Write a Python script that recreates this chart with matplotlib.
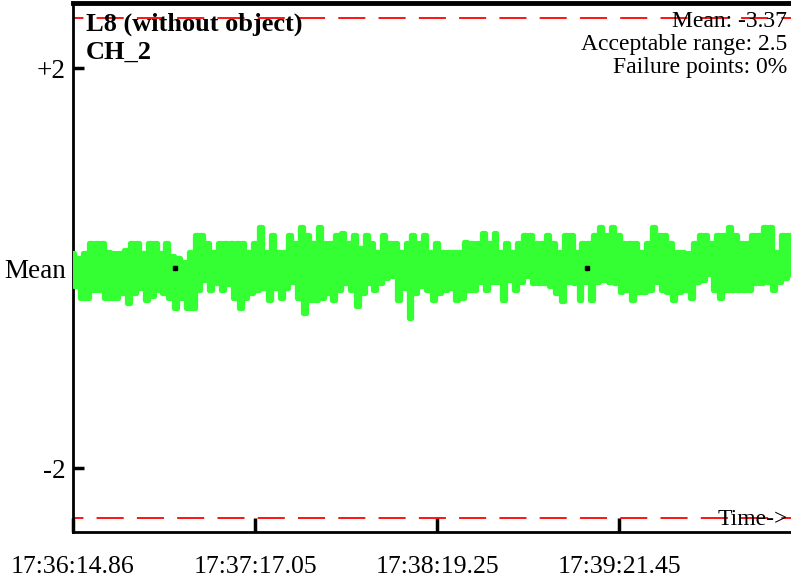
import numpy as np
import matplotlib
matplotlib.use("Agg")
import matplotlib.pyplot as plt

# ---------------- data ----------------
title_line1 = "L8 (without object)"
title_line2 = "CH_2"
info_lines = ["Mean: -3.37", "Acceptable range: 2.5", "Failure points: 0%"]
acceptable_range = 2.5
ytick_values = [2, 0, -2]
ytick_labels = ["+2", "Mean", "-2"]
xtick_seconds = [0.0, 62.19, 124.39, 186.59]
xtick_labels = ["17:36:14.86", "17:37:17.05", "17:38:19.25", "17:39:21.45"]
x_span_seconds = 245.3

# signal deviations from mean, as (high, low) pairs
signal_pairs = [
    (0.15, -0.18), (0.10, -0.30), (0.15, -0.30), (0.25, -0.22), (0.25, -0.22),
    (0.25, -0.30), (0.16, -0.30), (0.15, -0.30), (0.15, -0.25), (0.18, -0.35),
    (0.25, -0.25), (0.25, -0.20), (0.15, -0.32), (0.25, -0.28), (0.25, -0.22),
    (0.15, -0.25), (0.25, -0.30), (0.12, -0.40), (0.10, -0.30), (0.06, -0.40),
    (0.16, -0.40), (0.33, -0.22),
    (0.33, -0.12), (0.25, -0.22), (0.16, -0.15), (0.25, -0.22), (0.25, -0.16),
    (0.25, -0.30), (0.25, -0.40), (0.25, -0.30), (0.16, -0.25), (0.25, -0.22),
    (0.41, -0.20), (0.16, -0.32), (0.33, -0.20), (0.16, -0.30), (0.16, -0.20),
    (0.33, -0.14), (0.25, -0.30), (0.41, -0.45), (0.33, -0.32), (0.25, -0.32),
    (0.41, -0.30), (0.25, -0.25),
    (0.25, -0.32), (0.33, -0.22), (0.35, -0.15), (0.25, -0.22), (0.33, -0.38),
    (0.20, -0.25), (0.33, -0.15), (0.25, -0.22), (0.16, -0.15), (0.33, -0.10),
    (0.25, -0.08), (0.25, -0.32), (0.16, -0.20), (0.25, -0.50), (0.33, -0.25),
    (0.25, -0.18), (0.33, -0.22), (0.16, -0.32), (0.25, -0.25), (0.16, -0.22),
    (0.16, -0.20), (0.16, -0.32), (0.16, -0.30), (0.26, -0.22), (0.25, -0.22),
    (0.25, -0.14), (0.35, -0.22), (0.25, -0.14), (0.35, -0.14), (0.16, -0.32),
    (0.25, -0.12), (0.16, -0.22), (0.25, -0.14), (0.33, -0.08), (0.33, -0.15),
    (0.25, -0.15), (0.25, -0.15), (0.33, -0.18), (0.25, -0.25), (0.16, -0.33),
    (0.33, -0.14),
    (0.33, -0.15), (0.16, -0.32), (0.25, -0.14), (0.25, -0.32), (0.33, -0.14),
    (0.41, -0.12), (0.33, -0.14), (0.41, -0.15), (0.33, -0.24), (0.25, -0.22),
    (0.25, -0.32), (0.25, -0.24), (0.16, -0.24), (0.25, -0.22), (0.41, -0.14),
    (0.33, -0.22), (0.33, -0.24), (0.25, -0.32), (0.16, -0.24), (0.16, -0.22),
    (0.15, -0.30), (0.25, -0.14), (0.33, -0.12), (0.33, -0.06), (0.25, -0.22),
    (0.33, -0.30), (0.33, -0.22), (0.41, -0.22), (0.33, -0.22), (0.25, -0.22),
    (0.25, -0.22), (0.33, -0.15), (0.33, -0.15), (0.41, -0.14), (0.41, -0.22),
    (0.16, -0.14), (0.33, -0.10), (0.33, -0.06),
]
marker_seconds = [34.9, 175.7]
marker_values = [0.0, 0.0]

# ---------------- plot ----------------
plt.rcParams["font.family"] = ["Liberation Serif", "DejaVu Serif"]
plt.rcParams["lines.scale_dashes"] = False

fig = plt.figure(figsize=(7.91, 5.81), dpi=100)
W, H = 791, 581
ax = fig.add_axes([73 / W, (H - 532) / H, 1 - 73 / W, (532 - 3) / H])

values = np.array(signal_pairs).ravel()
t = np.linspace(0, x_span_seconds, len(values))
ax.plot(t, values, color="#33ff33", lw=3.8, drawstyle="steps-mid",
        solid_joinstyle="round", solid_capstyle="round", zorder=3)
ax.plot(marker_seconds, marker_values, ls="none", marker="s", ms=3,
        color="black", zorder=4)

for lvl in (acceptable_range, -acceptable_range):
    ax.axhline(lvl, color="red", lw=1.3, linestyle=(12, (19.5, 9.5)), zorder=2)

ax.set_xlim(0, x_span_seconds)
ax.set_ylim(-2.64, 2.65)

ax.set_yticks(ytick_values)
ax.set_yticklabels(ytick_labels, fontsize=19.5)
ax.set_xticks(xtick_seconds)
ax.set_xticklabels(xtick_labels, fontsize=18.5)
ax.tick_params(axis="y", direction="in", length=8, width=2.5, pad=5)
ax.tick_params(axis="x", direction="in", length=10, width=2.5, pad=17)

for s in ("left", "bottom"):
    ax.spines[s].set_linewidth(2)
ax.spines["top"].set_linewidth(3.5)
ax.spines["right"].set_visible(False)

fig.text(86 / W, 1 - 31 / H, title_line1, fontsize=19, fontweight="bold",
         va="baseline", ha="left")
fig.text(86 / W, 1 - 59 / H, title_line2, fontsize=19, fontweight="bold",
         va="baseline", ha="left")
for i, line in enumerate(info_lines):
    fig.text(787 / W, 1 - (27 + 23 * i) / H, line, fontsize=17,
             va="baseline", ha="right")
fig.text(788 / W, 1 - 525 / H, "Time->", fontsize=17, va="baseline", ha="right")

fig.savefig("out.png", dpi=100)
